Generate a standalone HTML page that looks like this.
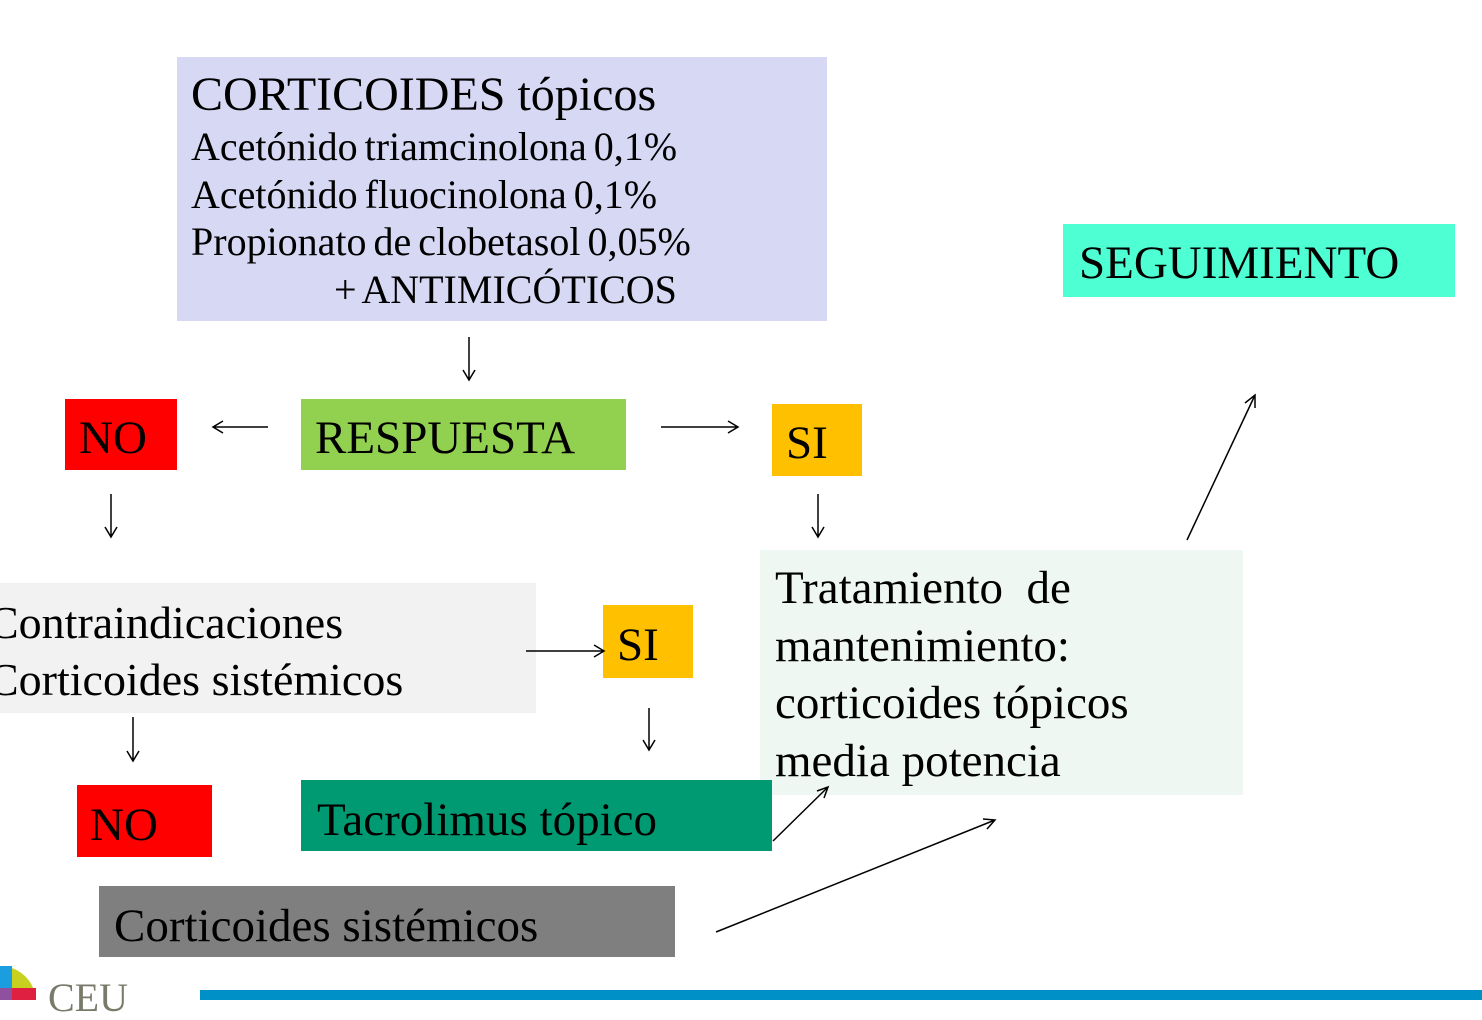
<!DOCTYPE html><html><head><meta charset="utf-8"><style>
body{margin:0;width:1482px;height:1000px;position:relative;background:#fff;overflow:hidden;font-family:"Liberation Serif",serif;color:#000}
.b{position:absolute;box-sizing:border-box;white-space:nowrap}
</style></head><body>
<div class="b" style="left:177px;top:57px;width:650px;height:264px;background:#d7d8f4;padding:12px 0 0 14px">
<div style="font-size:48px;line-height:52px">CORTICOIDES tópicos</div>
<div style="font-size:40px;line-height:47.5px;margin-top:2px;word-spacing:-3px">Acetónido triamcinolona 0,1%<br>Acetónido fluocinolona 0,1%<br>Propionato de clobetasol 0,05%<br><span style="padding-left:143px">+ ANTIMICÓTICOS</span></div></div>
<div class="b" style="left:1063px;top:224px;width:392px;height:73px;background:#4dffd2;font-size:47px;line-height:78px;padding-left:16px">SEGUIMIENTO</div>
<div class="b" style="left:65px;top:399px;width:112px;height:71px;background:#ff0000;font-size:47px;line-height:78px;padding-left:14px">NO</div>
<div class="b" style="left:301px;top:399px;width:325px;height:71px;background:#92d050;font-size:47px;line-height:78px;padding-left:14px">RESPUESTA</div>
<div class="b" style="left:772px;top:404px;width:90px;height:72px;background:#ffc000;font-size:47px;line-height:78px;padding-left:14px">SI</div>
<div class="b" style="left:0;top:583px;width:536px;height:130px;background:#f2f2f2;font-size:46px;line-height:57px;padding-top:11px;overflow:hidden"><span style="margin-left:-12px">Contraindicaciones</span><br><span style="margin-left:-12px">Corticoides sistémicos</span></div>
<div class="b" style="left:603px;top:605px;width:90px;height:73px;background:#ffc000;font-size:47px;line-height:80px;padding-left:14px">SI</div>
<div class="b" style="left:760px;top:550px;width:483px;height:245px;background:#eef7f2;font-size:47px;line-height:57.5px;padding:10px 0 0 15px">Tratamiento&nbsp; de<br>mantenimiento:<br>corticoides tópicos<br>media potencia</div>
<div class="b" style="left:77px;top:785px;width:135px;height:72px;background:#ff0000;font-size:47px;line-height:80px;padding-left:13px">NO</div>
<div class="b" style="left:301px;top:780px;width:471px;height:71px;background:#009a72;font-size:47px;line-height:80px;padding-left:16px">Tacrolimus tópico</div>
<div class="b" style="left:99px;top:886px;width:576px;height:71px;background:#7f7f7f;font-size:47px;line-height:80px;padding-left:15px">Corticoides sistémicos</div>
<div class="b" style="left:200px;top:990px;width:1282px;height:10px;background:#0090c8"></div>
<div class="b" style="left:48px;top:976px;font-size:40px;color:#7a7a6a;line-height:44px">CEU</div>
<svg class="b" style="left:0;top:0" width="1482" height="1000">
<g><path d="M0 966 A36 36 0 0 1 36 1002 L0 1002Z" fill="#c8d020"/><rect x="0" y="966" width="12" height="36" fill="#1a9ee0"/><rect x="0" y="988" width="36" height="14" fill="#e02040"/><rect x="0" y="988" width="12" height="14" fill="#9050a0"/></g>
<g stroke="#000" stroke-width="1.5" fill="none">
<path d="M469 337V380M463 370L469 380L475 370"/>
<path d="M268 427H213M223 421L213 427L223 433"/>
<path d="M661 427H738M728 421L738 427L728 433"/>
<path d="M111 494V537M105 527L111 537L117 527"/>
<path d="M818 494V537M812 527L818 537L824 527"/>
<path d="M526 651H604M594 645L604 651L594 657"/>
<path d="M133 717V761M127 751L133 761L139 751"/>
<path d="M649 708V750M643 740L649 750L655 740"/>
<path d="M1187 540L1255 395M1245 403L1255 395L1255 408"/>
<path d="M773 841L828 787M817 791L828 787L824 798"/>
<path d="M716 932L995 820M983 819L995 820L987 829"/>
</g></svg>
</body></html>
